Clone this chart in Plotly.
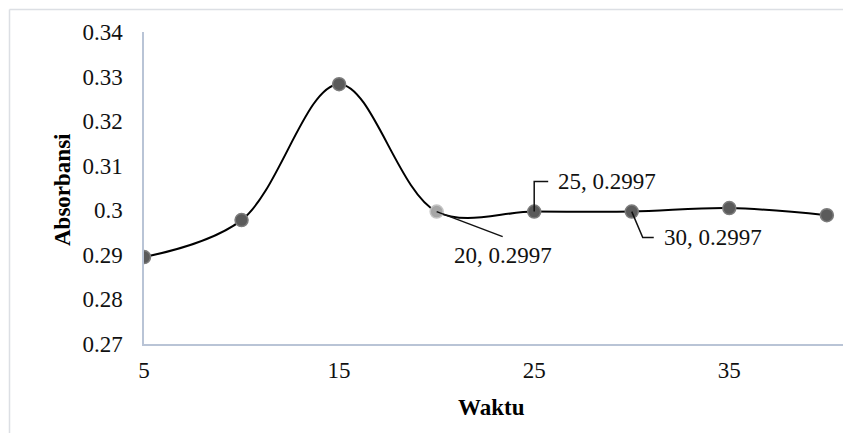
import plotly.graph_objects as go

# Absorbance readings over time
waktu = [5, 10, 15, 20, 25, 30, 35, 40]
absorbansi = [0.2895, 0.2978, 0.3283, 0.2997, 0.2997, 0.2997, 0.3005, 0.2989]

y_ticks = [0.27, 0.28, 0.29, 0.30, 0.31, 0.32, 0.33, 0.34]
y_tick_text = ["0.27", "0.28", "0.29", "0.3", "0.31", "0.32", "0.33", "0.34"]
x_ticks = [5, 15, 25, 35]

# points that carry a "x, y" data label
labelled = [20, 25, 30]

W, H = 843, 433
ML, MR, MT, MB = 144, 0, 32, 89
FONT = "Liberation Serif"
AXIS_COLOR = "#b9c4d6"
TICK_SIZE = 23
LABEL_SIZE = 23
TITLE_SIZE = 23

marker_fill = ["#a6a6a6" if x == 20 else "#5b5b5b" for x in waktu]
marker_edge = ["#c4c4c4" if x == 20 else "#7c7c7c" for x in waktu]

fig = go.Figure()
fig.add_trace(go.Scatter(
    x=waktu, y=absorbansi,
    mode="lines+markers",
    line=dict(color="black", width=2, shape="spline", smoothing=1.0),
    marker=dict(size=13, color=marker_fill, line=dict(color=marker_edge, width=1.5)),
    hoverinfo="skip",
    showlegend=False,
))

# label offsets (text anchor, px) and leader paths (px, relative to the point; y up)
label_style = {
    20: dict(xshift=66, yshift=-44, xanchor="center", path="M 0 0 L 66 -25"),
    25: dict(xshift=22, yshift=30, xanchor="left", path="M 0 0 L 0 30 L 14 30"),
    30: dict(xshift=30, yshift=-26, xanchor="left", path="M 0 0 L 11 -26 L 22 -26"),
}

shapes = []
annotations = []
for x, y in zip(waktu, absorbansi):
    if x not in labelled:
        continue
    st = label_style[x]
    annotations.append(dict(
        x=x, y=y, xref="x", yref="y",
        text=f"{x}, {y:.4f}",
        showarrow=False,
        xanchor=st["xanchor"], yanchor="middle",
        xshift=st["xshift"], yshift=st["yshift"],
        font=dict(family=FONT, size=LABEL_SIZE, color="#111111"),
    ))
    shapes.append(dict(
        type="path", xref="x", yref="y",
        xsizemode="pixel", ysizemode="pixel",
        xanchor=x, yanchor=y,
        path=st["path"],
        line=dict(color="#111111", width=1.5),
        layer="above",
    ))

# outer chart border (top and left edges visible)
pw = W - ML - MR
ph = H - MT - MB
bx = (9.5 - ML) / pw
by = 1 + (MT - 9.5) / ph
shapes.append(dict(type="line", xref="paper", yref="paper", x0=bx, y0=by, x1=1.01, y1=by,
                   line=dict(color="#dcdfe4", width=1.5), layer="below"))
shapes.append(dict(type="line", xref="paper", yref="paper", x0=bx, y0=by, x1=bx, y1=-0.5,
                   line=dict(color="#dcdfe4", width=1.5), layer="below"))

# axis titles
annotations.append(dict(
    text="<b>Absorbansi</b>", xref="paper", yref="paper",
    x=(62 - ML) / pw, y=1 - (190 - MT) / ph,
    textangle=-90, showarrow=False, xanchor="center", yanchor="middle",
    font=dict(family=FONT, size=TITLE_SIZE, color="black"),
))
annotations.append(dict(
    text="<b>Waktu</b>", xref="paper", yref="paper",
    x=(491 - ML) / pw, y=-(407 - MT - ph) / ph,
    showarrow=False, xanchor="center", yanchor="middle",
    font=dict(family=FONT, size=TITLE_SIZE, color="black"),
))

x_max = 5 + pw / 19.51

fig.update_layout(
    width=W, height=H,
    margin=dict(l=ML, r=MR, t=MT, b=MB),
    paper_bgcolor="white", plot_bgcolor="white",
    font=dict(family=FONT, size=TICK_SIZE, color="#111111"),
    xaxis=dict(
        range=[5, x_max], tickvals=x_ticks, ticktext=[str(v) for v in x_ticks],
        showgrid=False, zeroline=False,
        showline=True, linecolor=AXIS_COLOR, linewidth=1.5,
        ticks="", ticklabelstandoff=5,
        tickfont=dict(family=FONT, size=TICK_SIZE, color="#111111"),
    ),
    yaxis=dict(
        range=[0.27, 0.34], tickvals=y_ticks, ticktext=y_tick_text,
        showgrid=False, zeroline=False,
        showline=True, linecolor=AXIS_COLOR, linewidth=1.5,
        ticks="", ticklabelstandoff=15,
        tickfont=dict(family=FONT, size=TICK_SIZE, color="#111111"),
    ),
    shapes=shapes,
    annotations=annotations,
)

fig.write_html("out.html", config={"displayModeBar": False})
